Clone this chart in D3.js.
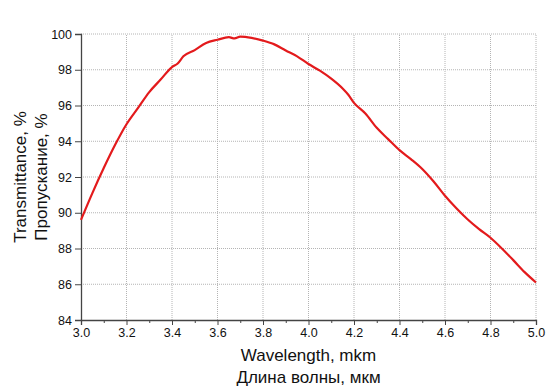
<!DOCTYPE html>
<html>
<head>
<meta charset="utf-8">
<script src="https://cdn.jsdelivr.net/npm/d3@7"></script>
<style>
body { margin: 0; background: #fff; }
text { font-family: "Liberation Sans", Arial, sans-serif; }
</style>
</head>
<body>
<script>
var w = 550;
var h = 387;
var margin = {top: 34, right: 14, bottom: 67, left: 81};

// wavelength, mkm
var wavelength = [3.00, 3.05, 3.10, 3.15, 3.20, 3.25, 3.30, 3.35, 3.40, 3.425, 3.45, 3.50,
    3.55, 3.60, 3.65, 3.675, 3.70, 3.75, 3.80, 3.85, 3.90, 3.95, 4.00, 4.05, 4.10, 4.15,
    4.175, 4.20, 4.25, 4.30, 4.35, 4.40, 4.45, 4.50, 4.55, 4.60, 4.65, 4.70, 4.75, 4.80,
    4.85, 4.90, 4.95, 5.00];
// transmittance, %
var transmittance = [89.6, 91.1, 92.5, 93.8, 94.95, 95.85, 96.75, 97.45, 98.15, 98.35, 98.75, 99.1,
    99.5, 99.68, 99.82, 99.75, 99.85, 99.78, 99.63, 99.42, 99.08, 98.75, 98.32, 97.95, 97.5, 96.95,
    96.6, 96.15, 95.55, 94.75, 94.12, 93.5, 93.0, 92.45, 91.75, 90.95, 90.25, 89.62, 89.08, 88.6,
    88.0, 87.35, 86.68, 86.1];

var xTicks = [3.0, 3.2, 3.4, 3.6, 3.8, 4.0, 4.2, 4.4, 4.6, 4.8, 5.0];
var xMinor = [3.1, 3.3, 3.5, 3.7, 3.9, 4.1, 4.3, 4.5, 4.7, 4.9];
var yTicks = [84, 86, 88, 90, 92, 94, 96, 98, 100];

var svg = d3.select("body")
    .append("svg")
    .attr("width", w)
    .attr("height", h);

var x = d3.scaleLinear().domain([3.0, 5.0]).range([margin.left, w - margin.right]);
var y = d3.scaleLinear().domain([84, 100]).range([h - margin.bottom, margin.top]);

// grid
svg.append("g").selectAll("line")
    .data(xTicks.slice(1))
    .enter().append("line")
    .attr("x1", function(d){ return x(d); })
    .attr("x2", function(d){ return x(d); })
    .attr("y1", y(84))
    .attr("y2", y(100))
    .attr("stroke", "#b4b4b4")
    .attr("stroke-dasharray", "1,1");

svg.append("g").selectAll("line")
    .data(yTicks.slice(1))
    .enter().append("line")
    .attr("x1", x(3.0))
    .attr("x2", x(5.0))
    .attr("y1", function(d){ return y(d); })
    .attr("y2", function(d){ return y(d); })
    .attr("stroke", "#b4b4b4")
    .attr("stroke-dasharray", "1,1");

// axes
svg.append("g")
    .attr("transform", "translate(0," + y(84) + ")")
    .call(d3.axisBottom(x).tickValues(xTicks).tickFormat(d3.format(".1f")).tickSize(5).tickPadding(3));

svg.append("g")
    .attr("transform", "translate(0," + y(84) + ")")
    .call(d3.axisBottom(x).tickValues(xMinor).tickFormat("").tickSize(3))
    .select(".domain").remove();

svg.append("g")
    .attr("transform", "translate(" + x(3.0) + ",0)")
    .call(d3.axisLeft(y).tickValues(yTicks).tickSize(6).tickPadding(3));

svg.selectAll(".domain").attr("stroke", "#444").attr("stroke-width", 1.3);
svg.selectAll(".tick line").attr("stroke", "#444");
svg.selectAll(".tick text").attr("font-size", 12.5).attr("fill", "#111")
    .style("font-family", "'Liberation Sans', Arial, sans-serif");

// curve
var line = d3.line()
    .x(function(d, i){ return x(wavelength[i]); })
    .y(function(d){ return y(d); })
    .curve(d3.curveMonotoneX);

svg.append("path")
    .datum(transmittance)
    .attr("d", line)
    .attr("fill", "none")
    .attr("stroke", "#e31a1c")
    .attr("stroke-width", 2.2);

// titles
var cx = (x(3.0) + x(5.0)) / 2;
svg.append("text").attr("x", cx).attr("y", 361).attr("text-anchor", "middle")
    .attr("font-size", 17).attr("fill", "#111").text("Wavelength, mkm");
svg.append("text").attr("x", cx).attr("y", 383).attr("text-anchor", "middle")
    .attr("font-size", 17).attr("fill", "#111").text("Длина волны, мкм");

var cy = (y(84) + y(100)) / 2;
svg.append("text").attr("transform", "translate(26," + cy + ") rotate(-90)")
    .attr("text-anchor", "middle").attr("font-size", 17).attr("fill", "#111")
    .text("Transmittance, %");
svg.append("text").attr("transform", "translate(47," + cy + ") rotate(-90)")
    .attr("text-anchor", "middle").attr("font-size", 17).attr("fill", "#111")
    .text("Пропускание, %");
</script>
</body>
</html>
